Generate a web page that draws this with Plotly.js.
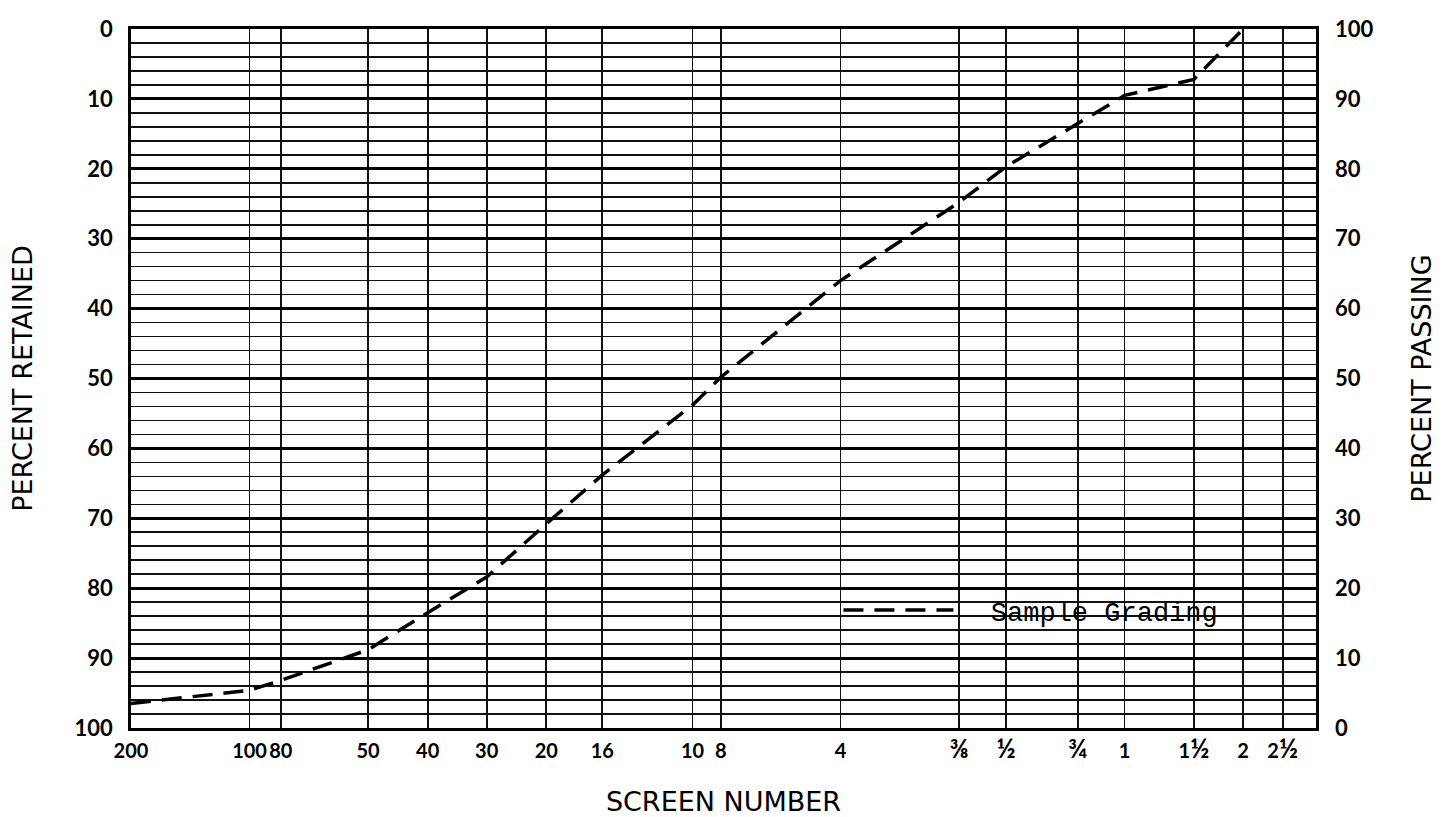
<!DOCTYPE html>
<html>
<head>
<meta charset="utf-8">
<script src="https://cdn.plot.ly/plotly-3.0.1.min.js"></script>
<style>
  html, body { margin: 0; padding: 0; background: #ffffff; }
  #chart { width: 1443px; height: 817px; }
</style>
</head>
<body>
<div id="chart"></div>
<script>
// Sieve openings (mm) and their labels on the screen-number axis
const sieveSizes  = [0.075, 0.15, 0.18, 0.30, 0.425, 0.60, 0.85, 1.18, 2.0, 2.36, 4.75, 9.5, 12.5, 19.0, 25.0, 37.5, 50.0, 63.0];
const sieveLabels = ['200', '100', '80', '50', '40', '30', '20', '16', '10', '8', '4', '⅜', '½', '¾', '1', '1½', '2', '2½'];

// Sample grading curve
const gradingSizes    = [0.075, 0.15, 0.18, 0.30, 0.425, 0.60, 0.85, 1.18, 2.0, 2.36, 4.75, 9.5, 12.5, 19.0, 25.0, 37.5, 50.0];
const percentRetained = [96.5, 94.6, 93.2, 88.8, 83.5, 78.4, 70.8, 63.8, 53.8, 49.8, 36.0, 24.8, 19.7, 13.5, 9.5, 7.2, 0];
const percentPassing  = percentRetained.map(v => 100 - v);

const leftTicks  = [0, 10, 20, 30, 40, 50, 60, 70, 80, 90, 100];
const rightTicks = [0, 10, 20, 30, 40, 50, 60, 70, 80, 90, 100];

// enlarge the vulgar-fraction glyphs so they read at the same size as the digits
const fractionChars = ['⅜', '½', '¾'];
const xTickText = sieveLabels.map(lbl =>
  lbl.split('').map(ch => fractionChars.includes(ch)
    ? '<span style="font-size:26px">' + ch + '</span>' : ch).join(''));

const tickFont = { family: 'Lato, "DejaVu Sans", sans-serif', size: 22, color: '#000', weight: 'bold' };
const xTickFont = { family: 'Lato, "DejaVu Sans", sans-serif', size: 20, color: '#000', weight: 'bold' };
const titleFont = { family: '"DejaVu Sans", Lato, sans-serif', size: 27, color: '#000' };

const traces = [
  {
    x: gradingSizes, y: percentRetained,
    type: 'scatter', mode: 'lines',
    name: '\u00A0\u00A0Sample Grading',
    line: { color: '#000', width: 3.5, dash: '20px,11px' },
    xaxis: 'x', yaxis: 'y',
    hoverinfo: 'x+y'
  },
  {
    x: gradingSizes, y: percentPassing,
    type: 'scatter', mode: 'lines',
    name: 'passing',
    line: { color: 'rgba(0,0,0,0)', width: 0 },
    xaxis: 'x', yaxis: 'y2',
    showlegend: false, hoverinfo: 'skip'
  }
];

const layout = {
  width: 1443, height: 817,
  paper_bgcolor: '#fff', plot_bgcolor: '#fff',
  margin: { l: 131, r: 127, t: 29, b: 89 },
  showlegend: true,
  legend: {
    x: 0.597, y: 0.168, xanchor: 'left', yanchor: 'middle',
    bgcolor: 'rgba(0,0,0,0)', borderwidth: 0,
    itemwidth: 110,
    font: { family: '"Liberation Mono", "DejaVu Sans Mono", monospace', size: 27, color: '#000' }
  },
  xaxis: {
    type: 'log',
    range: [Math.log10(0.075), 1.884],
    tickmode: 'array', tickvals: sieveSizes, ticktext: xTickText,
    tickangle: 0,
    showgrid: true, gridcolor: '#111', gridwidth: 1.8,
    zeroline: false,
    showline: true, linecolor: '#000', linewidth: 2.8, mirror: true,
    ticks: '', ticklabelstandoff: 3,
    tickfont: xTickFont,
    title: { text: 'SCREEN NUMBER', font: titleFont, standoff: 33 }
  },
  yaxis: {
    range: [100, 0],
    tickmode: 'array', tickvals: leftTicks,
    showgrid: true, gridcolor: '#000', gridwidth: 3,
    minor: { dtick: 2, tick0: 0, showgrid: true, gridcolor: '#111', gridwidth: 1.6 },
    zeroline: false,
    showline: true, linecolor: '#000', linewidth: 2.8, mirror: true,
    ticks: '', ticklabelstandoff: 11,
    tickfont: tickFont,
    title: { text: 'PERCENT RETAINED', font: titleFont, standoff: 34 }
  },
  yaxis2: {
    overlaying: 'y', side: 'right',
    range: [0, 100],
    tickmode: 'array', tickvals: rightTicks,
    showgrid: false, zeroline: false,
    ticks: '', ticklabelstandoff: 18,
    tickfont: tickFont,
    title: { text: 'PERCENT PASSING', font: titleFont, standoff: 39 }
  }
};

Plotly.newPlot('chart', traces, layout, { staticPlot: true, displayModeBar: false });
</script>
</body>
</html>
